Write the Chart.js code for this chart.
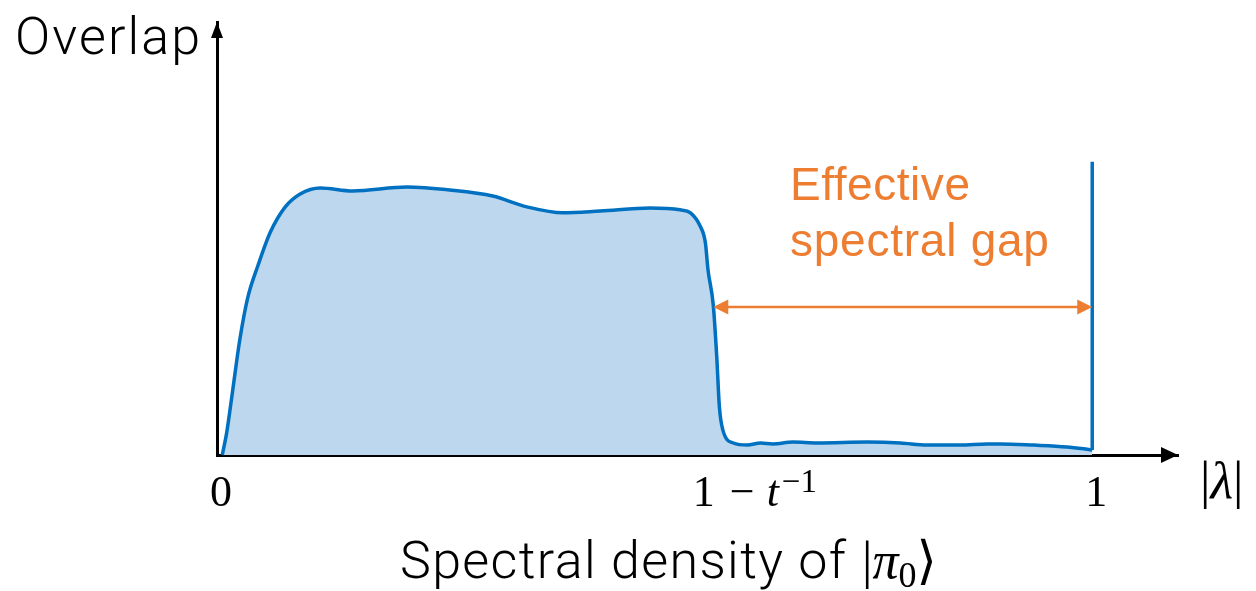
<!DOCTYPE html>
<html lang="en">
<head>
<meta charset="UTF-8">
<script src="https://cdn.jsdelivr.net/npm/chart.js"></script>
<title>Spectral density</title>
<style>
  html, body { margin: 0; padding: 0; background: #fff; }
  #box { width: 1256px; height: 591px; }
</style>
</head>
<body>
<div id="box"><canvas id="grafico"></canvas></div>
<script>
  // curva de sobreposicao (x = |lambda|, y = overlap)
  const lambdaX = [0.006, 0.011, 0.018, 0.026, 0.035, 0.047, 0.061, 0.078, 0.095, 0.118,
                   0.155, 0.217, 0.266, 0.315, 0.354, 0.395, 0.438, 0.495, 0.529, 0.541,
                   0.552, 0.558, 0.561, 0.567, 0.571, 0.574, 0.578, 0.590, 0.606, 0.621,
                   0.635, 0.658, 0.686, 0.743, 0.781, 0.811, 0.849, 0.880, 0.895, 0.933,
                   0.971, 1.000];
  const overlapY = [0.000, 0.073, 0.217, 0.383, 0.523, 0.633, 0.743, 0.827, 0.870, 0.890,
                    0.880, 0.893, 0.883, 0.863, 0.827, 0.807, 0.813, 0.823, 0.817, 0.807,
                    0.763, 0.707, 0.617, 0.500, 0.327, 0.160, 0.083, 0.040, 0.033, 0.040,
                    0.037, 0.043, 0.040, 0.043, 0.040, 0.033, 0.033, 0.037, 0.037, 0.033,
                    0.027, 0.017];
  // pico em lambda = 1
  const picoX = [1.0, 1.0];
  const picoY = [0.017, 0.977];

  // eixo x: posicoes dos rotulos
  const tickValues = [0, 0.61, 1];

  // seta do gap espectral
  const gapInicio = 0.567;
  const gapFim = 1.0;
  const gapAltura = 0.493;
  const textoGap = ["Effective", "spectral gap"];

  const tituloY = "Overlap";
  const tituloX = "Spectral density of";

  const azul = "#0070C0";
  const azulClaro = "#BDD7EE";
  const laranja = "#ED7D31";

  const sans = "'Liberation Sans', Arial, sans-serif";
  const leve = "300 52px Roboto, 'Liberation Sans', sans-serif";
  const serif = "'Liberation Serif', 'DejaVu Serif', serif";

  // rotulos dos ticks, montados em pedacos (fonte, texto, deslocamento vertical, folga)
  const tickLabels = [
    [{ f: "44px " + serif, t: "0" }],
    [{ f: "44px " + serif, t: "1", gx: 15 }, { f: "44px " + serif, t: "−", gx: 12 },
     { f: "italic 44px " + serif, t: "t", gx: 3 }, { f: "33px " + serif, t: "−1", dy: -14 }],
    [{ f: "44px " + serif, t: "1" }]
  ];
  const rotuloLambda = [{ f: "52px " + serif, t: "|" }, { f: "italic 52px " + serif, t: "λ" },
                        { f: "52px " + serif, t: "|" }];
  const rotuloKet = [{ f: "52px " + serif, t: "|" }, { f: "italic 52px " + serif, t: "π" },
                     { f: "36px " + serif, t: "0", dy: 9 }, { f: "52px " + serif, t: "⟩" }];

  function larguraPedacos(ctx, partes) {
    let w = 0;
    partes.forEach(p => { ctx.font = p.f; w += ctx.measureText(p.t).width + (p.gx || 0); });
    return w;
  }

  function desenhaPedacos(ctx, partes, x, y) {
    partes.forEach(p => {
      ctx.font = p.f;
      ctx.fillText(p.t, x, y + (p.dy || 0));
      x += ctx.measureText(p.t).width + (p.gx || 0);
    });
  }

  // texto esticado ate a largura desejada
  function textoLargo(ctx, texto, x, y, fonte, largura) {
    ctx.font = fonte;
    ctx.letterSpacing = "0px";
    const w = ctx.measureText(texto).width;
    const n = texto.length - 1;
    ctx.letterSpacing = Math.max(0, (largura - w) / n).toFixed(2) + "px";
    ctx.fillText(texto, x, y);
    ctx.letterSpacing = "0px";
  }

  function ponta(ctx, x, y, ang, comp, meia, cor) {
    ctx.save();
    ctx.translate(x, y);
    ctx.rotate(ang);
    ctx.fillStyle = cor;
    ctx.beginPath();
    ctx.moveTo(0, 0);
    ctx.lineTo(-comp, -meia);
    ctx.lineTo(-comp, meia);
    ctx.closePath();
    ctx.fill();
    ctx.restore();
  }

  const extras = {
    id: "extras",
    afterDraw(chart) {
      const ctx = chart.ctx;
      const a = chart.chartArea;
      const sx = chart.scales.x;
      const sy = chart.scales.y;

      // pontas dos eixos
      ponta(ctx, a.right, a.bottom, 0, 17, 8, "#000");
      ponta(ctx, a.left, a.top, -Math.PI / 2, 16, 6, "#000");

      // seta dupla laranja
      const x1 = sx.getPixelForValue(gapInicio);
      const x2 = sx.getPixelForValue(gapFim);
      const yy = sy.getPixelForValue(gapAltura);
      ctx.save();
      ctx.strokeStyle = laranja;
      ctx.lineWidth = 2.5;
      ctx.beginPath();
      ctx.moveTo(x1 + 10, yy);
      ctx.lineTo(x2 - 10, yy);
      ctx.stroke();
      ctx.restore();
      ponta(ctx, x1, yy, Math.PI, 15, 7.5, laranja);
      ponta(ctx, x2, yy, 0, 15, 7.5, laranja);

      ctx.save();
      ctx.textBaseline = "alphabetic";
      ctx.textAlign = "left";

      // rotulos do eixo x
      ctx.fillStyle = "#000";
      tickValues.forEach((v, i) => {
        const w = larguraPedacos(ctx, tickLabels[i]);
        const cx = sx.getPixelForValue(v) + 4;
        desenhaPedacos(ctx, tickLabels[i], cx - w / 2, 506);
      });
      desenhaPedacos(ctx, rotuloLambda, 1200, 498);

      // textos laranja
      ctx.fillStyle = laranja;
      textoLargo(ctx, textoGap[0], 790, 200, "46px " + sans, 180);
      textoLargo(ctx, textoGap[1], 790, 256, "46px " + sans, 259);

      // titulos
      ctx.fillStyle = "#000";
      textoLargo(ctx, tituloY, 15, 54, leve, 185);
      textoLargo(ctx, tituloX, 400, 578, leve, 446);
      desenhaPedacos(ctx, rotuloKet, 862, 578);
      ctx.restore();
    }
  };

  const curva = lambdaX.map((x, i) => ({ x: x, y: overlapY[i] }));
  const pico = picoX.map((x, i) => ({ x: x, y: picoY[i] }));

  const config = {
    type: "line",
    data: {
      datasets: [
        {
          data: curva,
          borderColor: azul,
          backgroundColor: azulClaro,
          borderWidth: 3.5,
          fill: "origin",
          pointRadius: 0,
          cubicInterpolationMode: "monotone",
          clip: false
        },
        {
          data: pico,
          borderColor: azul,
          borderWidth: 3.5,
          fill: false,
          pointRadius: 0,
          clip: false
        }
      ]
    },
    options: {
      responsive: true,
      maintainAspectRatio: false,
      animation: false,
      layout: { padding: { left: 217, right: 78, top: 22, bottom: 136 } },
      plugins: { legend: { display: false }, tooltip: { enabled: false } },
      scales: {
        x: {
          type: "linear",
          min: 0,
          max: 1.098,
          grid: { display: false, drawTicks: false },
          border: { display: true, color: "#000", width: 3 },
          ticks: { display: false },
          afterFit: (s) => { s.height = 0; }
        },
        y: {
          type: "linear",
          min: 0,
          max: 1.443,
          grid: { display: false, drawTicks: false },
          border: { display: true, color: "#000", width: 3 },
          ticks: { display: false },
          afterFit: (s) => { s.width = 0; }
        }
      }
    },
    plugins: [extras]
  };

  new Chart(document.getElementById("grafico"), config);
</script>
</body>
</html>
